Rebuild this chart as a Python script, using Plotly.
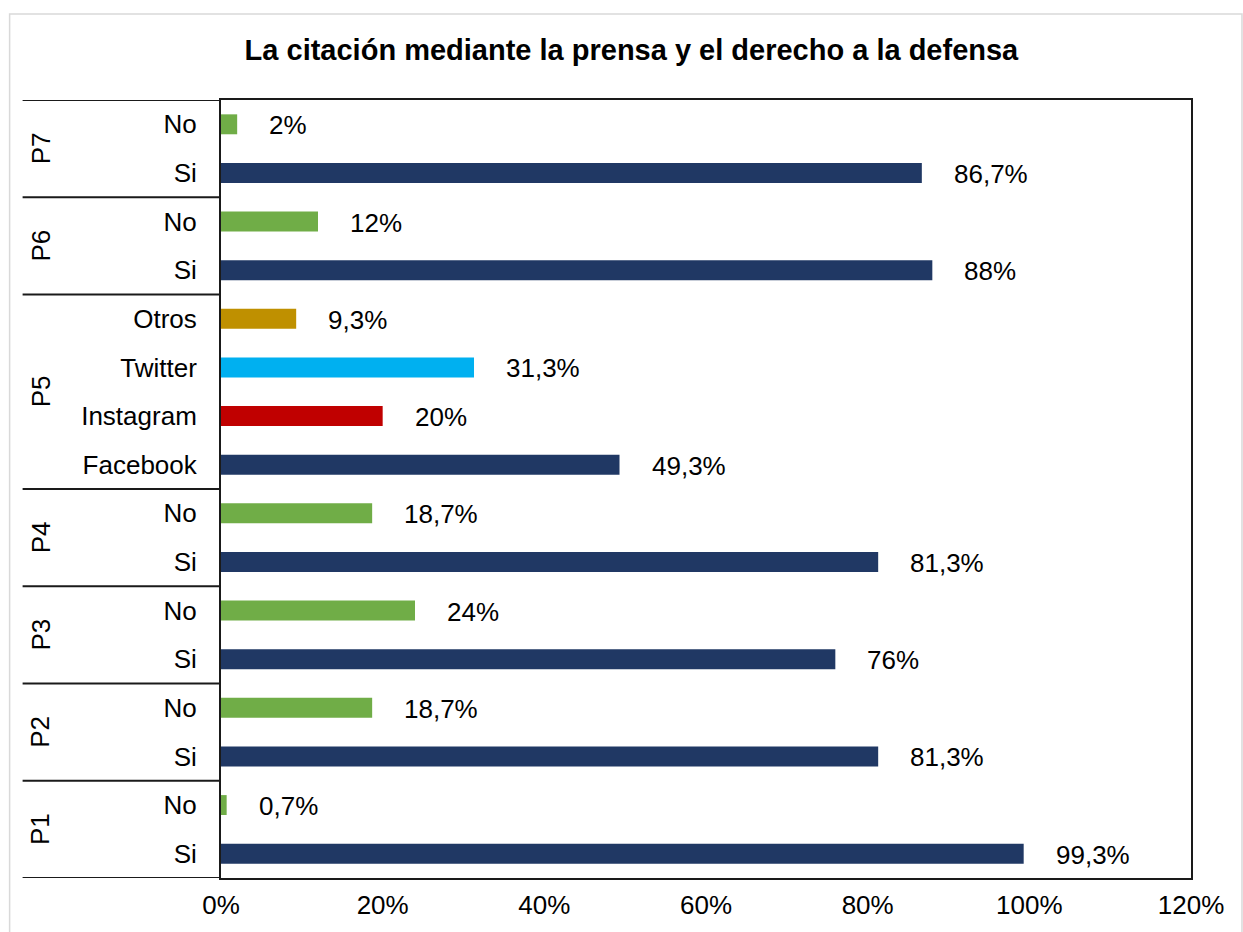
import plotly.graph_objects as go

# ---------------- data ----------------
title_text = "La citación mediante la prensa y el derecho a la defensa"
groups = ["P1", "P1", "P2", "P2", "P3", "P3", "P4", "P4",
          "P5", "P5", "P5", "P5", "P6", "P6", "P7", "P7"]
items = ["Si", "No", "Si", "No", "Si", "No", "Si", "No",
         "Facebook", "Instagram", "Twitter", "Otros", "Si", "No", "Si", "No"]
values = [99.3, 0.7, 81.3, 18.7, 76, 24, 81.3, 18.7,
          49.3, 20, 31.3, 9.3, 88, 12, 86.7, 2]
x_ticks = [0, 20, 40, 60, 80, 100, 120]

# ---------------- style ----------------
color_map = {"Si": "#203864", "No": "#70AD47", "Facebook": "#203864",
             "Instagram": "#C00000", "Twitter": "#00B0F0", "Otros": "#BF9000"}
FONT = "Liberation Sans, Arial, sans-serif"
FS = 26
LINE = "#1a1a1a"

cat_ids = [f"{g}|{i}" for g, i in zip(groups, items)]
colors = [color_map[i] for i in items]


def fmt(v):
    if float(v).is_integer():
        return f"{int(v)}%"
    return f"{v:.1f}".replace(".", ",") + "%"


fig = go.Figure()
fig.add_trace(go.Bar(
    x=values, y=cat_ids, orientation="h",
    marker=dict(color=colors, line=dict(width=0)),
    width=0.41, hoverinfo="x+y", showlegend=False,
))

annotations = []
for cid, v in zip(cat_ids, values):
    annotations.append(dict(
        x=v, y=cid, xref="x", yref="y", text=fmt(v), showarrow=False,
        xanchor="left", yanchor="middle", xshift=30, yshift=-1,
        font=dict(family=FONT, size=FS, color="#000000")))

# group labels and dividers
shapes = []
PX_W = 970.5
PX_H = 778.0
left_px = 220.5
x_div = (22 - left_px) / PX_W
x_grp = (40 - left_px) / PX_W

ordered_groups = []
for g in groups:
    if g not in ordered_groups:
        ordered_groups.append(g)
idx = 0
for g in ordered_groups:
    n = groups.count(g)
    start = idx
    end = idx + n - 1
    mid = (start + end) / 2
    annotations.append(dict(
        x=x_grp, y=mid, xref="paper", yref="y", text=g, showarrow=False,
        textangle=-90, xanchor="center", yanchor="middle",
        font=dict(family=FONT, size=FS, color="#000000")))
    shapes.append(dict(type="line", xref="paper", yref="y",
                       x0=x_div, x1=0, y0=start - 0.5, y1=start - 0.5,
                       line=dict(color=LINE, width=2)))
    idx += n
shapes.append(dict(type="line", xref="paper", yref="y",
                   x0=x_div, x1=0, y0=idx - 0.5, y1=idx - 0.5,
                   line=dict(color=LINE, width=2)))

# outer chart-area border
shapes.append(dict(type="rect", xref="paper", yref="paper",
                   x0=(9 - left_px) / PX_W, x1=(1242 - left_px) / PX_W,
                   y0=(878 - 960) / PX_H, y1=1 + (100 - 14) / PX_H,
                   line=dict(color="#D9D9D9", width=1.5), layer="below"))

fig.update_layout(
    width=1243, height=932,
    margin=dict(l=220.5, r=52, t=100, b=54),
    paper_bgcolor="white", plot_bgcolor="white",
    font=dict(family=FONT, size=FS, color="#000000"),
    title=dict(text=f"<b>{title_text}</b>", x=0.508, xanchor="center",
               y=1 - 50 / 932, yanchor="middle", automargin=False,
               font=dict(family=FONT, size=29, color="#000000")),
    xaxis=dict(range=[0, 120], tickvals=x_ticks,
               ticktext=[f"{t}%" for t in x_ticks], automargin=False,
               showgrid=False, zeroline=False, showline=True, mirror=True,
               linecolor=LINE, linewidth=2, ticks="", ticklabelstandoff=3,
               tickfont=dict(family=FONT, size=FS, color="#000000")),
    yaxis=dict(type="category", categoryorder="array", categoryarray=cat_ids,
               tickvals=cat_ids, ticktext=items, range=[-0.5, len(cat_ids) - 0.5],
               automargin=False,
               showgrid=False, zeroline=False, showline=True, mirror=True,
               linecolor=LINE, linewidth=2, ticks="", ticklabelstandoff=17,
               tickfont=dict(family=FONT, size=FS, color="#000000")),
    annotations=annotations, shapes=shapes,
    bargap=0.59,
)

fig.write_html("out.html")
